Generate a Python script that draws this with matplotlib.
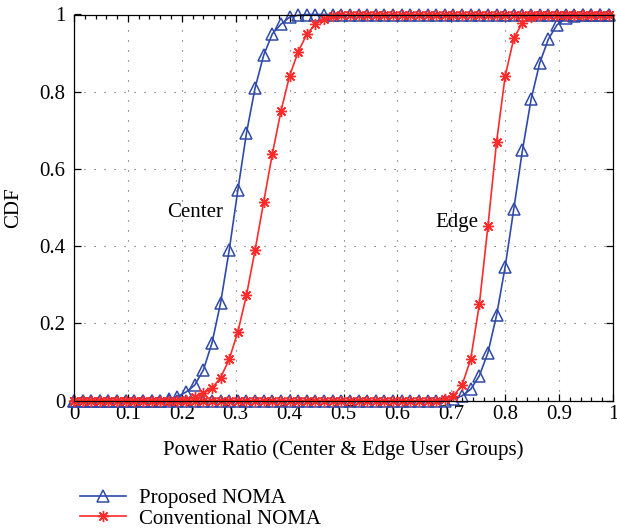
import numpy as np
import matplotlib
matplotlib.use("Agg")
import matplotlib.pyplot as plt
from matplotlib.ticker import MultipleLocator, FuncFormatter

# sample positions of the power ratio (step 0.016)
power_ratio = np.arange(0, 1, 0.016)

# CDF, one value per sample
proposed_center = [0, 0, 0, 0, 0, 0, 0, 0, 0, 0,
                   0, 0.004, 0.01, 0.022, 0.04, 0.079, 0.149, 0.253, 0.39, 0.545,
                   0.693, 0.81, 0.895, 0.95, 0.975, 0.993, 0.998, 1, 1, 1,
                   1, 1, 1, 1, 1, 1, 1, 1, 1, 1,
                   1, 1, 1, 1, 1, 1, 1, 1, 1, 1,
                   1, 1, 1, 1, 1, 1, 1, 1, 1, 1,
                   1, 1, 1]
conventional_center = [0, 0, 0, 0, 0, 0, 0, 0, 0, 0,
                       0, 0, 0, 0.002, 0.008, 0.019, 0.032, 0.059, 0.107, 0.178,
                       0.273, 0.39, 0.515, 0.639, 0.75, 0.841, 0.904, 0.949, 0.975, 0.988,
                       0.995, 0.998, 1, 1, 1, 1, 1, 1, 1, 1,
                       1, 1, 1, 1, 1, 1, 1, 1, 1, 1,
                       1, 1, 1, 1, 1, 1, 1, 1, 1, 1,
                       1, 1, 1]
proposed_edge = [0, 0, 0, 0, 0, 0, 0, 0, 0, 0,
                 0, 0, 0, 0, 0, 0, 0, 0, 0, 0,
                 0, 0, 0, 0, 0, 0, 0, 0, 0, 0,
                 0, 0, 0, 0, 0, 0, 0, 0, 0, 0,
                 0, 0, 0, 0, 0.004, 0.012, 0.029, 0.064, 0.124, 0.221,
                 0.347, 0.497, 0.648, 0.78, 0.874, 0.936, 0.973, 0.99, 0.997, 1,
                 1, 1, 1]
conventional_edge = [0, 0, 0, 0, 0, 0, 0, 0, 0, 0,
                     0, 0, 0, 0, 0, 0, 0, 0, 0, 0,
                     0, 0, 0, 0, 0, 0, 0, 0, 0, 0,
                     0, 0, 0, 0, 0, 0, 0, 0, 0, 0,
                     0, 0, 0, 0.004, 0.012, 0.04, 0.107, 0.249, 0.452, 0.67,
                     0.841, 0.938, 0.979, 0.994, 0.999, 1, 1, 1, 1, 1,
                     1, 1, 1]

labels = ["Proposed NOMA", "Conventional NOMA"]
BLUE = "#2f4aa8"
RED = "#ff2a2a"

plt.rcParams["font.family"] = ["Liberation Serif", "DejaVu Serif"]
plt.rcParams["font.size"] = 15

fig = plt.figure(figsize=(6.17, 5.32), dpi=100)
ax = fig.add_axes([74 / 617, 1 - 400.5 / 532, 539 / 617, 386 / 532])

blue_kw = dict(color=BLUE, lw=1.2, marker="^", ms=8, mfc="none", mec=BLUE, mew=1.1, clip_on=False)
red_kw = dict(color=RED, lw=1.2, marker=(8, 2, 0), ms=8, mec=RED, mew=1.0, clip_on=False)

h1, = ax.plot(power_ratio, proposed_center, **blue_kw)
ax.plot(power_ratio, proposed_edge, **blue_kw)
h2, = ax.plot(power_ratio, conventional_center, **red_kw)
ax.plot(power_ratio, conventional_edge, **red_kw)

ax.set_xlim(0, 1)
ax.set_ylim(0, 1)
fmt = FuncFormatter(lambda v, p: "%g" % round(v, 2))
ax.xaxis.set_major_locator(MultipleLocator(0.1))
ax.xaxis.set_minor_locator(MultipleLocator(0.02))
ax.yaxis.set_major_locator(MultipleLocator(0.2))
ax.xaxis.set_major_formatter(fmt)
ax.yaxis.set_major_formatter(fmt)
ax.tick_params(which="both", direction="in", top=True, right=True, width=0.9)
ax.tick_params(which="major", length=5)
ax.tick_params(which="minor", length=3)
ax.tick_params(axis="x", pad=3)
ax.tick_params(axis="y", pad=6)
for s in ax.spines.values():
    s.set_linewidth(0.9)
ax.grid(True, which="major", color="#555555", linestyle=(0, (1, 8)), linewidth=0.8)

ax.text(0.224, 0.488, "Center", ha="center", va="center")
ax.text(0.71, 0.462, "Edge", ha="center", va="center")

ax.set_xlabel("Power Ratio (Center & Edge User Groups)", labelpad=12)
ax.set_ylabel("CDF", labelpad=12)

fig.legend([h1, h2], labels, loc="upper left", bbox_to_anchor=(70 / 617, 1 - 478 / 532),
           frameon=False, handlelength=2.2, handletextpad=0.6, labelspacing=0.05,
           borderpad=0)

plt.savefig("out.png", dpi=100)
